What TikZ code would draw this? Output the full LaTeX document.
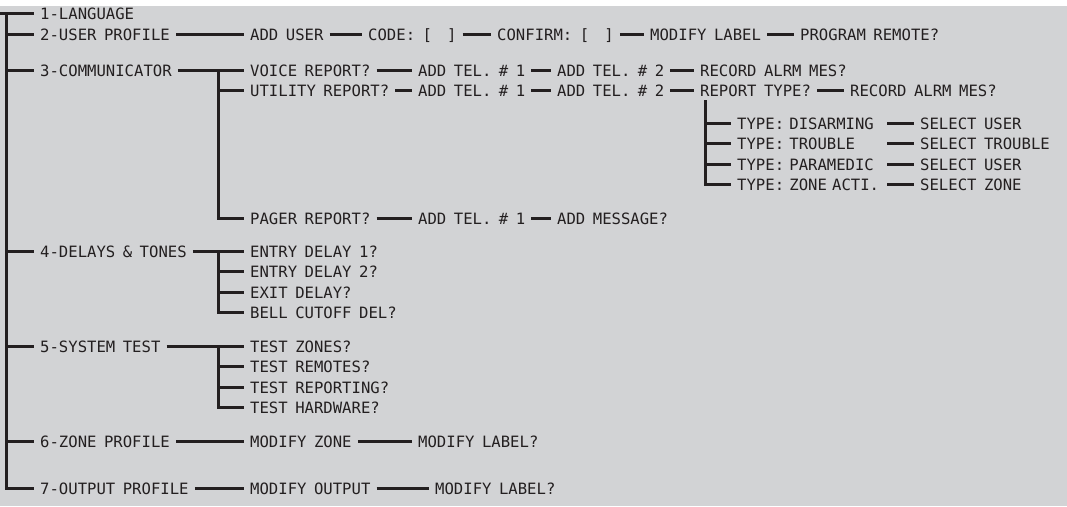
\documentclass[tikz,border=0pt]{standalone}
\usepackage{fontspec}
\newfontfamily\lcdfont[FakeStretch=1.0,WordSpace=0.8]{DejaVu Sans Mono}
\definecolor{panel}{HTML}{D2D3D5}
\definecolor{ink}{HTML}{231F20}

\begin{document}
\begin{tikzpicture}[
    x=1pt, y=-1pt,
    item/.style={font=\lcdfont\fontsize{15.6}{18}\selectfont, text=ink, anchor=west, inner xsep=6pt, inner ysep=0pt, text height=11.4pt, text depth=0pt},
    typeitem/.style={item, text width=144pt, align=left},
    wire/.style={draw=ink, line width=3pt}
]
\useasboundingbox (0,0) rectangle (1067,506);
\fill[white] (0,0) rectangle (1067,506);
\fill[panel] (0,6) rectangle (1067,506);

% Main menu
\node (lang) [item] at (34,13.5) {1-LANGUAGE};
\node (userProfile) [item] at (34,34.5) {2-USER PROFILE};
\node (communicator) [item] at (34,70.5) {3-COMMUNICATOR};
\node (delays) [item] at (34,251.5) {4-DELAYS \& TONES};
\node (systemTest) [item] at (34,346.5) {5-SYSTEM TEST};
\node (zoneProfile) [item] at (34,441.5) {6-ZONE PROFILE};
\node (outputProfile) [item] at (34,488.5) {7-OUTPUT PROFILE};

% User profile
\node (addUser) [item] at (244,34.5) {ADD USER};
\node (code) [item] at (362,34.5) {CODE: [~~]};
\node (confirm) [item] at (491,34.5) {CONFIRM: [~~]};
\node (modifyLabel) [item] at (644,34.5) {MODIFY LABEL};
\node (programRemote) [item] at (794,34.5) {PROGRAM REMOTE?};

% Communicator
\node (voice) [item] at (244,70.5) {VOICE REPORT?};
\node (voiceTel1) [item] at (412,70.5) {ADD TEL. \# 1};
\node (voiceTel2) [item] at (551,70.5) {ADD TEL. \# 2};
\node (voiceRecord) [item] at (694,70.5) {RECORD ALRM MES?};

\node (utility) [item] at (244,90.5) {UTILITY REPORT?};
\node (utilityTel1) [item] at (412,90.5) {ADD TEL. \# 1};
\node (utilityTel2) [item] at (551,90.5) {ADD TEL. \# 2};
\node (reportType) [item] at (694,90.5) {REPORT TYPE?};
\node (utilityRecord) [item] at (844,90.5) {RECORD ALRM MES?};

\node (typeDisarm) [typeitem] at (731,123.5) {TYPE: DISARMING};
\node (typeTrouble) [typeitem] at (731,143.5) {TYPE: TROUBLE};
\node (typeParamedic) [typeitem] at (731,164.5) {TYPE: PARAMEDIC};
\node (typeZone) [typeitem] at (731,184.5) {TYPE: ZONE ACTI.};
\node (selUser) [item] at (914,123.5) {SELECT USER};
\node (selTrouble) [item] at (914,143.5) {SELECT TROUBLE};
\node (selUser2) [item] at (914,164.5) {SELECT USER};
\node (selZone) [item] at (914,184.5) {SELECT ZONE};

\node (pager) [item] at (244,218.5) {PAGER REPORT?};
\node (pagerTel1) [item] at (412,218.5) {ADD TEL. \# 1};
\node (pagerMessage) [item] at (551,218.5) {ADD MESSAGE?};

% Delays & tones
\node (entry1) [item] at (244,251.5) {ENTRY DELAY 1?};
\node (entry2) [item] at (244,271.5) {ENTRY DELAY 2?};
\node (exitDelay) [item] at (244,292.5) {EXIT DELAY?};
\node (bellCutoff) [item] at (244,312.5) {BELL CUTOFF DEL?};

% System test
\node (testZones) [item] at (244,346.5) {TEST ZONES?};
\node (testRemotes) [item] at (244,366.5) {TEST REMOTES?};
\node (testReporting) [item] at (244,387.5) {TEST REPORTING?};
\node (testHardware) [item] at (244,407.5) {TEST HARDWARE?};

% Zone and output profile
\node (modifyZone) [item] at (244,441.5) {MODIFY ZONE};
\node (zoneLabel) [item] at (412,441.5) {MODIFY LABEL?};
\node (modifyOutput) [item] at (244,488.5) {MODIFY OUTPUT};
\node (outputLabel) [item] at (429,488.5) {MODIFY LABEL?};

% Trunks
\coordinate (start) at (0,13.5);
\coordinate (trunk) at (6.5,13.5);
\coordinate (commTrunk) at (218.5,70.5);
\coordinate (delayTrunk) at (218.5,251.5);
\coordinate (testTrunk) at (218.5,346.5);
\coordinate (typeTrunk) at (705.5,100);

% Lines
\draw [wire] (start) -- (lang);
\draw [wire] (trunk) |- (outputProfile);
\foreach \n in {userProfile, communicator, delays, systemTest, zoneProfile}
    \draw [wire] (trunk |- \n) -- (\n);

\draw [wire] (userProfile) -- (addUser) -- (code) -- (confirm) -- (modifyLabel) -- (programRemote);

\draw [wire] (communicator) -- (voice) -- (voiceTel1) -- (voiceTel2) -- (voiceRecord);
\draw [wire] (commTrunk) |- (pager);
\draw [wire] (commTrunk |- utility) -- (utility);
\draw [wire] (utility) -- (utilityTel1) -- (utilityTel2) -- (reportType) -- (utilityRecord);
\draw [wire] (pager) -- (pagerTel1) -- (pagerMessage);

\draw [wire] (typeTrunk) |- (typeZone);
\foreach \n in {typeDisarm, typeTrouble, typeParamedic}
    \draw [wire] (typeTrunk |- \n) -- (\n);
\draw [wire] (typeDisarm) -- (selUser);
\draw [wire] (typeTrouble) -- (selTrouble);
\draw [wire] (typeParamedic) -- (selUser2);
\draw [wire] (typeZone) -- (selZone);

\draw [wire] (delays) -- (entry1);
\draw [wire] (delayTrunk) |- (bellCutoff);
\foreach \n in {entry2, exitDelay}
    \draw [wire] (delayTrunk |- \n) -- (\n);

\draw [wire] (systemTest) -- (testZones);
\draw [wire] (testTrunk) |- (testHardware);
\foreach \n in {testRemotes, testReporting}
    \draw [wire] (testTrunk |- \n) -- (\n);

\draw [wire] (zoneProfile) -- (modifyZone) -- (zoneLabel);
\draw [wire] (outputProfile) -- (modifyOutput) -- (outputLabel);

\end{tikzpicture}
\end{document}
